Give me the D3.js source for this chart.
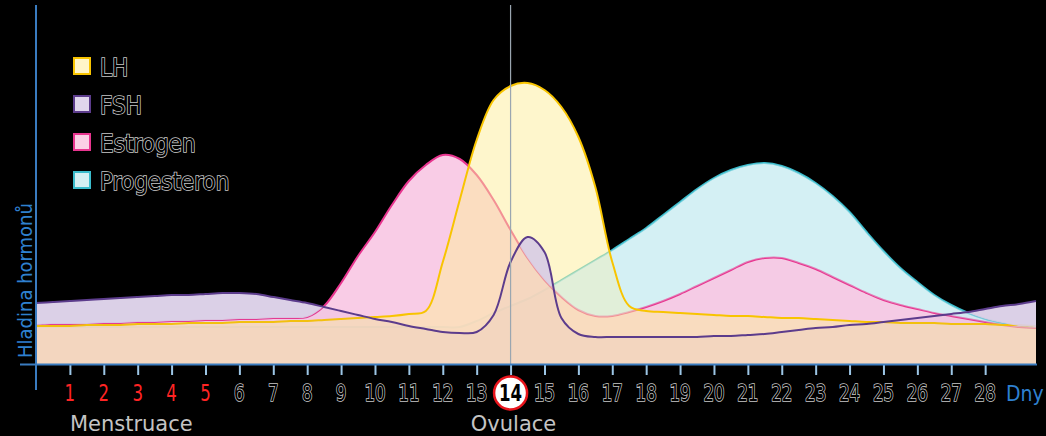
<!DOCTYPE html>
<html><head><meta charset="utf-8">
<script src="https://cdn.jsdelivr.net/npm/d3@7"></script>
<style>html,body{margin:0;padding:0;background:#000;overflow:hidden}svg{display:block}</style>
</head><body><svg id="c" width="1046" height="436"></svg>
<script>
// ---- data ----
const sampleDays = [0,0.5,1,1.5,2,2.5,3,3.5,4,4.5,5,5.5,6,6.5,7,7.5,8,8.5,9,9.5,
  10,10.5,11,11.5,12,12.5,13,13.5,14,14.5,15,15.5,16,16.5,17,17.5,18,18.5,19,19.5,
  20,20.5,21,21.5,22,22.5,23,23.5,24,24.5,25,25.5,26,26.5,27,27.5,28,28.5,29,29.5];
const lhLevels = [39,39,39,40,40,40,41,41,41,42, 42,42,43,43,43,44,44,45,46,47,
  48,49,51,54,103,165,225,265,279,282, 275,258,228,178,103,59,54,53,52,51,
  50,49,49,48,47,47,46,45,44,43, 43,42,42,42,41,41,41,40,40,39];
const fshLevels = [62,63,64,65,66,67,68,69,70,70, 71,72,72,71,68,65,62,58,54,50,
  46,43,39,36,33,32,33,50,103,128, 113,47,31,28,28,28,28,28,28,28,
  29,29,30,31,33,35,37,38,40,41, 43,45,47,49,51,53,56,59,61,64];
const estrogenLevels = [40,41,41,41,42,42,43,43,44,44, 45,45,46,46,47,47,48,59,82,109,
  133,160,184,200,210,206,190,165,135,107, 85,68,55,49,49,53,58,64,71,79,
  87,95,103,107,107,102,96,88,80,72, 65,60,56,52,49,46,43,40,38,37];
const progesteronLevels = [38,38,38,38,38,38,38,38,38,38, 38,38,38,38,38,38,38,38,38,38,
  38,38,38,38,38,38,44,52,59,66, 75,85,95,105,115,126,137,150,163,176,
  187,195,200,202,199,192,182,169,153,133, 114,97,83,70,60,52,46,42,39,38];
const legendLabels = ["LH","FSH","Estrogen","Progesteron"];
const dayTicks = [1,2,3,4,5,6,7,8,9,10,11,12,13,14,15,16,17,18,19,20,21,22,23,24,25,26,27,28];
const menstruationDays = [1,2,3,4,5];
const ovulationDay = 14;
const axisTitleY = "Hladina hormonů";
const axisUnitX = "Dny";
const phaseLabels = [{text:"Menstruace", day:1, anchor:"start"},{text:"Ovulace", day:14, anchor:"middle"}];

// ---- styles ----
const C = {
  lh:{fill:"#fded99", op:0.5, line:"#f8c400", legFill:"#fff5c8"},
  fsh:{fill:"#dcd2e8", op:0.92, line:"#5c3c8c", legFill:"#e0d6ec"},
  est:{fill:"#f8c6e3", op:0.9, line:"#e8358f", legFill:"#fbd0e6"},
  pro:{fill:"#d4f0f4", op:1, line:"#3bbccc", legFill:"#d6f0f3"}
};
const narrow = "'Liberation Sans Narrow','Arial Narrow','DejaVu Sans Condensed',sans-serif";

const svg = d3.select("#c");
const W = 1046, H = 436;
svg.append("rect").attr("width",W).attr("height",H).attr("fill","#000");

const x = d3.scaleLinear().domain([0,29.5]).range([36,1036]);
const y = d3.scaleLinear().domain([0,360]).range([365,5]);

const mk = arr => sampleDays.map((d,i)=>({day:d, v:arr[i]}));
const S = {lh:mk(lhLevels), fsh:mk(fshLevels), est:mk(estrogenLevels), pro:mk(progesteronLevels)};

const curve = d3.curveCatmullRom.alpha(0.5);
const area = d3.area().x(d=>x(d.day)).y0(y(0)).y1(d=>y(d.v)).curve(curve);
const line = d3.line().x(d=>x(d.day)).y(d=>y(d.v)).curve(curve);

const defs = svg.append("defs");
const m1 = defs.append("mask").attr("id","fshMask").attr("maskUnits","userSpaceOnUse")
  .attr("x",0).attr("y",0).attr("width",W).attr("height",H);
m1.append("path").attr("d",area(S.fsh)).attr("fill","#fff");
m1.append("path").attr("d",area(S.est)).attr("fill","#000");
m1.append("path").attr("d",area(S.pro)).attr("fill","#000");
const m2 = defs.append("mask").attr("id","proMask").attr("maskUnits","userSpaceOnUse")
  .attr("x",0).attr("y",0).attr("width",W).attr("height",H);
m2.append("path").attr("d",area(S.pro)).attr("fill","#fff");
m2.append("path").attr("d",area(S.est)).attr("fill","#000");

const g = svg.append("g");
["pro","est","lh","fsh"].forEach(k=>g.append("path").attr("d",area(S[k])).attr("fill","#fff"));
g.append("path").attr("d",area(S.pro)).attr("fill",C.pro.fill);
g.append("path").attr("d",line(S.pro)).attr("fill","none").attr("stroke",C.pro.line).attr("stroke-width",2);
g.append("path").attr("d",area(S.est)).attr("fill",C.est.fill).attr("fill-opacity",C.est.op);
g.append("path").attr("d",line(S.est)).attr("fill","none").attr("stroke",C.est.line).attr("stroke-width",2);
g.append("path").attr("d",area(S.lh)).attr("fill",C.lh.fill).attr("fill-opacity",C.lh.op);
g.append("path").attr("d",area(S.pro)).attr("fill",C.pro.fill).attr("fill-opacity",0.4).attr("mask","url(#proMask)");
g.append("path").attr("d",line(S.lh)).attr("fill","none").attr("stroke",C.lh.line).attr("stroke-width",2);
g.append("path").attr("d",area(S.fsh)).attr("fill",C.fsh.fill).attr("fill-opacity",C.fsh.op).attr("mask","url(#fshMask)");
g.append("path").attr("d",area(S.fsh)).attr("fill","#a890c8").attr("fill-opacity",0.07);
g.append("path").attr("d",line(S.fsh)).attr("fill","none").attr("stroke",C.fsh.line).attr("stroke-width",2);

svg.append("line").attr("x1",x(ovulationDay)).attr("x2",x(ovulationDay)).attr("y1",5).attr("y2",364)
  .attr("stroke","#9aa6b0").attr("stroke-width",1.2);

const axisBlue = "#3a7cc0";
const xAxis = d3.axisBottom(x).tickValues(dayTicks).tickSize(10).tickFormat("");
const ax = svg.append("g").attr("transform","translate(0,365)").call(xAxis);
ax.select(".domain").remove();
ax.selectAll(".tick line").attr("stroke","#9cc6e6").attr("stroke-width",2);
svg.append("line").attr("x1",20).attr("x2",1037).attr("y1",364.5).attr("y2",364.5).attr("stroke",axisBlue).attr("stroke-width",2);
svg.append("line").attr("x1",36).attr("x2",36).attr("y1",5).attr("y2",390).attr("stroke",axisBlue).attr("stroke-width",2);

svg.append("circle").attr("cx",x(ovulationDay)).attr("cy",393).attr("r",16.5)
  .attr("fill","#fff").attr("stroke","#e8141c").attr("stroke-width",2.5);

svg.append("g").selectAll("text").data(dayTicks).join("text")
  .attr("transform",d=>`translate(${x(d)},401) scale(0.84,1.06)`).attr("text-anchor","middle")
  .attr("font-family",narrow).attr("font-size",22)
  .attr("font-weight",d=>d===ovulationDay?"bold":"normal")
  .attr("fill",d=>menstruationDays.includes(d)?"#ff2424":"#000")
  .attr("stroke",d=>menstruationDays.includes(d)||d===ovulationDay?"none":"#c8c8c8")
  .attr("stroke-width",1.5).attr("paint-order","stroke")
  .text(d=>d);

svg.append("text").attr("x",1006).attr("y",401).attr("font-family",narrow).attr("font-size",21)
  .attr("fill","#2f80d0").text(axisUnitX);

svg.append("g").selectAll("text").data(phaseLabels).join("text")
  .attr("x",d=>d.anchor==="start"?x(d.day):x(d.day)+3).attr("y",431).attr("text-anchor",d=>d.anchor)
  .attr("font-family","'DejaVu Sans',sans-serif").attr("font-size",21)
  .attr("fill","#c4c4c4").text(d=>d.text);

svg.append("text").attr("transform","translate(32,358) rotate(-90)")
  .attr("font-family",narrow).attr("font-size",20).attr("fill","#2f80d0").text(axisTitleY);

const legKeys = ["lh","fsh","est","pro"];
const leg = svg.append("g").selectAll("g").data(legendLabels).join("g")
  .attr("transform",(d,i)=>`translate(74,${58+i*38})`);
leg.append("rect").attr("width",16).attr("height",16)
  .attr("fill",(d,i)=>C[legKeys[i]].legFill).attr("stroke",(d,i)=>C[legKeys[i]].line).attr("stroke-width",2);
leg.append("text").attr("x",26).attr("y",18).attr("font-family",narrow).attr("font-size",24)
  .attr("fill","#000").attr("stroke","#c8c8c8").attr("stroke-width",1.5).attr("paint-order","stroke")
  .text(d=>d);
</script></body></html>
